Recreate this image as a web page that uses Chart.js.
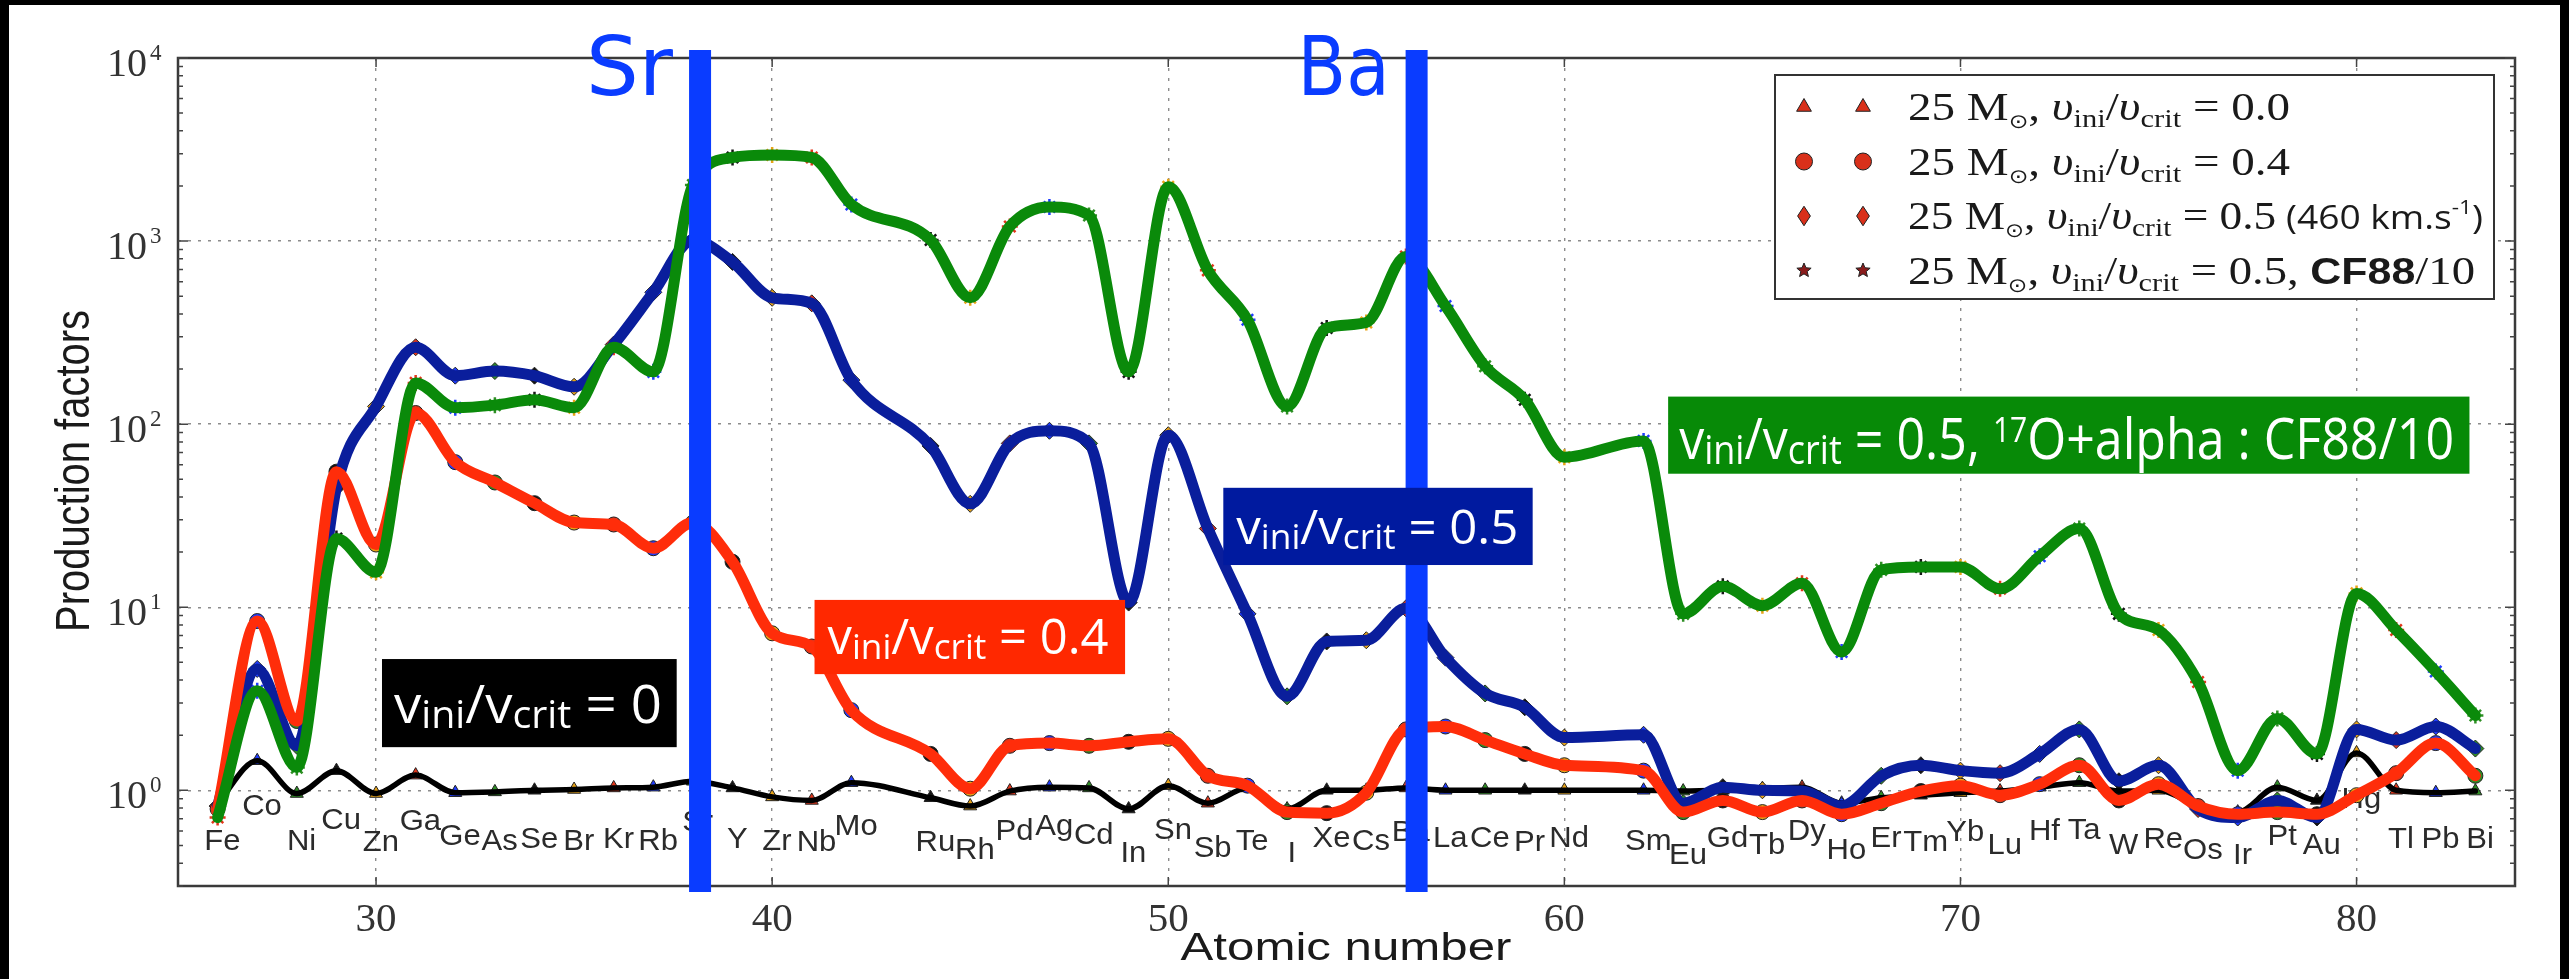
<!DOCTYPE html>
<html>
<head>
<meta charset="utf-8">
<title>Production factors</title>
<script src="https://cdn.jsdelivr.net/npm/chart.js@4.4.1/dist/chart.umd.min.js"></script>
<style>
  html, body { margin: 0; padding: 0; background: #000; }
  canvas { display: block; }
</style>
</head>
<body>
<canvas id="pfChart" width="2569" height="979"></canvas>
<script>
// ---- data ----
const atomicNumbers = [26,27,28,29,30,31,32,33,34,35,36,37,38,39,40,41,42,
  44,45,46,47,48,49,50,51,52,53,54,55,56,57,58,59,60,
  62,63,64,65,66,67,68,69,70,71,72,73,74,75,76,77,78,79,80,81,82,83];
const elements = ['Fe','Co','Ni','Cu','Zn','Ga','Ge','As','Se','Br','Kr','Rb','Sr','Y','Zr','Nb','Mo',
  'Ru','Rh','Pd','Ag','Cd','In','Sn','Sb','Te','I','Xe','Cs','Ba','La','Ce','Pr','Nd',
  'Sm','Eu','Gd','Tb','Dy','Ho','Er','Tm','Yb','Lu','Hf','Ta','W','Re','Os','Ir','Pt','Au','Hg','Tl','Pb','Bi'];

// v_ini/v_crit = 0.0 (black)
const pf_v00 = [0.85,1.45,0.96,1.28,0.96,1.21,0.97,0.98,1.0,1.01,1.03,1.04,1.12,1.03,0.92,0.88,1.1,
  0.91,0.82,0.99,1.04,1.03,0.79,1.06,0.85,1.03,0.79,1.0,1.0,1.03,1.0,1.0,1.0,1.0,
  1.0,0.99,1.0,1.02,1.04,0.85,0.91,0.94,0.97,0.99,1.04,1.1,0.99,1.0,0.82,0.76,1.04,0.88,1.6,1.0,0.97,0.99];
// v_ini/v_crit = 0.4 (red)
const pf_v04 = [0.79,8.4,2.39,55,22,115,62,48,37,29,28.3,21,29,17.7,7.2,6.1,2.74,
  1.58,1.02,1.75,1.81,1.75,1.84,1.91,1.2,1.06,0.76,0.75,0.97,2.15,2.23,1.88,1.58,1.37,
  1.28,0.76,0.88,0.76,0.88,0.74,0.85,0.99,1.06,0.94,1.08,1.37,0.88,1.08,0.82,0.74,0.76,0.74,0.94,1.24,1.81,1.2];
// v_ini/v_crit = 0.5 (blue)
const pf_v05 = [0.82,4.6,1.75,45,125,263,184,195,184,160,272,525,1014,769,490,457,174,
  76,36.7,78.5,92,78.5,10.6,87,26.9,9.2,3.26,6.5,6.6,9.86,5.3,3.38,2.84,1.94,
  2.01,0.85,1.04,1.0,0.99,0.82,1.2,1.37,1.28,1.24,1.58,2.15,1.12,1.37,0.79,0.71,0.88,0.71,2.15,1.88,2.23,1.69];
// v_ini/v_crit = 0.5, CF88/10 (green)
const pf_cf88 = [0.71,3.5,1.33,23.7,15.5,168,123,127,136,123,263,193,2025,2860,2950,2860,1585,
  1014,490,1202,1535,1380,193,1982,692,372,125,335,359,824,442,207,136,66,
  81,9.2,13,10.2,13.5,5.7,16,16.6,16.6,12.6,19,26.9,9.2,7.5,3.9,1.28,2.47,1.58,11.9,7.5,4.45,2.56];

const xTicks = [30,40,50,60,70,80];
const yTicks = [1,10,100,1000,10000];
const legendValues = ['0.0','0.4','0.5','0.5'];

// placement of the element symbols along the bottom (in production-factor units)
const symbolY = [0.54,0.84,0.54,0.70,0.53,0.69,0.57,0.54,0.55,0.54,0.55,0.54,0.68,0.55,0.54,0.53,0.65,
  0.53,0.48,0.61,0.65,0.58,0.46,0.62,0.49,0.54,0.46,0.56,0.54,0.60,0.56,0.56,0.53,0.56,
  0.54,0.45,0.56,0.51,0.61,0.48,0.56,0.53,0.60,0.51,0.61,0.62,0.51,0.55,0.48,0.45,0.57,0.51,0.915,0.55,0.55,0.55];

// ---- styles ----
const markerPalette = ['#1f3cff','#2f8f25','#151515','#e8a317','#e2361b'];
const markerColor = z => markerPalette[((z - 27) % 5 + 5) % 5];
const pointColors = atomicNumbers.map(markerColor);

const series = [
  { data: pf_v00,  color: '#000000', width: 5.5, marker: 'triangle', r: 7.5, order: 4 },
  { data: pf_v04,  color: '#ff2d0a', width: 11,  marker: 'circle',   r: 7.5, order: 2 },
  { data: pf_v05,  color: '#0a1e9c', width: 11,  marker: 'rectRot',  r: 8.5, order: 3 },
  { data: pf_cf88, color: '#0a8a0a', width: 11,  marker: 'star',     r: 8,   order: 1 }
];

const highlights = [
  { label: 'Sr', z: 38.18, textW: 87 },
  { label: 'Ba', z: 56.27, textW: 92 }
];
const HL_COLOR = '#0a3cff';

const ratioSegs = [{t:'v'},{t:'ini',k:0.72,dy:0.1},{t:'/'},{t:'v'},{t:'crit',k:0.72,dy:0.1}];
const notes = [
  { tail: [{t:' = 0'}],   bg: '#000000', z: [30.15, 37.59], pf: [5.21, 1.72],  size: 53, pad: 12, textW: 268, base: 24 },
  { tail: [{t:' = 0.4'}], bg: '#ff2800', z: [41.07, 48.91], pf: [10.96, 4.31], size: 49, pad: 13, textW: 281, base: 20 },
  { tail: [{t:' = 0.5'}], bg: '#001a9f', z: [51.39, 59.2],  pf: [44.9, 17.0],  size: 47, pad: 13, textW: 282, base: 21 },
  { tail: [{t:' = 0.5, '},{t:'17',k:0.6,dy:-0.3},{t:'O+alpha : CF88/10'}],
    bg: '#078a07', z: [62.62, 82.85], pf: [141.4, 53.6], size: 57, pad: 11, textW: 775, base: 15 }
];

const SERIF = 'Liberation Serif';
const SANS = 'Liberation Sans';
const NOTE_FONT = 'Open Sans';

function segFont(s, size, family) {
  const k = s.k || 1;
  return (s.style || 'normal') + ' ' + (s.weight || 'normal') + ' ' + (size * k).toFixed(1) + 'px "' + (s.family || family) + '"';
}

function drawRich(ctx, segs, x, y, size, family, targetW, color) {
  let w = 0;
  const widths = segs.map(s => {
    ctx.font = segFont(s, size, family);
    const m = ctx.measureText(s.t).width;
    w += m;
    return m;
  });
  const sx = targetW ? targetW / w : 1;
  ctx.save();
  ctx.translate(x, y);
  ctx.scale(sx, 1);
  ctx.fillStyle = color;
  ctx.textAlign = 'left';
  ctx.textBaseline = 'alphabetic';
  let cx = 0;
  segs.forEach((s, i) => {
    ctx.font = segFont(s, size, family);
    ctx.fillText(s.t, cx, (s.dy || 0) * size);
    cx += widths[i];
  });
  ctx.restore();
}

function drawMarker(ctx, style, x, y, r, fill, stroke) {
  ctx.save();
  ctx.beginPath();
  if (style === 'triangle') {
    ctx.moveTo(x, y - r); ctx.lineTo(x + r * 0.87, y + r * 0.5); ctx.lineTo(x - r * 0.87, y + r * 0.5); ctx.closePath();
  } else if (style === 'circle') {
    ctx.arc(x, y, r, 0, Math.PI * 2);
  } else if (style === 'diamond') {
    ctx.moveTo(x, y - r * 1.15); ctx.lineTo(x + r * 0.75, y); ctx.lineTo(x, y + r * 1.15); ctx.lineTo(x - r * 0.75, y); ctx.closePath();
  } else {
    for (let i = 0; i < 10; i++) {
      const a = -Math.PI / 2 + i * Math.PI / 5;
      const rr = i % 2 ? r * 0.45 : r;
      ctx.lineTo(x + rr * Math.cos(a), y + rr * Math.sin(a));
    }
    ctx.closePath();
  }
  ctx.fillStyle = fill; ctx.fill();
  ctx.lineWidth = 1; ctx.strokeStyle = stroke; ctx.stroke();
  ctx.restore();
}

const decor = {
  id: 'decor',
  beforeDraw(chart) {
    const ctx = chart.ctx;
    ctx.save();
    ctx.fillStyle = '#000';
    ctx.fillRect(0, 0, chart.width, chart.height);
    ctx.fillStyle = '#fff';
    ctx.fillRect(9, 5, chart.width - 18, chart.height - 5);
    ctx.restore();
  },
  beforeDatasetsDraw(chart) {
    // element symbols
    const ctx = chart.ctx, xs = chart.scales.x, ys = chart.scales.y;
    ctx.save();
    ctx.font = '29px "' + SANS + '"';
    ctx.fillStyle = '#2b2b2b';
    ctx.textAlign = 'center';
    ctx.textBaseline = 'alphabetic';
    elements.forEach((el, i) => {
      const px = xs.getPixelForValue(atomicNumbers[i] + 0.12);
      const py = ys.getPixelForValue(symbolY[i]) + 10.4;
      ctx.save();
      ctx.translate(px, py);
      ctx.scale(1.07, 1);
      ctx.fillText(el, 0, 0);
      ctx.restore();
    });
    ctx.restore();
  },
  afterDatasetsDraw(chart) {
    const ctx = chart.ctx, ca = chart.chartArea, xs = chart.scales.x, ys = chart.scales.y;
    ctx.save();

    // frame
    ctx.strokeStyle = '#3a3a3a';
    ctx.lineWidth = 2.5;
    ctx.strokeRect(ca.left, ca.top, ca.right - ca.left, ca.bottom - ca.top);

    // inward ticks
    ctx.lineWidth = 1.5;
    ctx.strokeStyle = '#444';
    ctx.beginPath();
    xTicks.forEach(v => {
      const px = xs.getPixelForValue(v);
      ctx.moveTo(px, ca.bottom); ctx.lineTo(px, ca.bottom - 9);
      ctx.moveTo(px, ca.top); ctx.lineTo(px, ca.top + 9);
    });
    for (let d = -1; d <= 4; d++) {
      for (let m = 1; m <= 9; m++) {
        const v = m * Math.pow(10, d);
        if (v < ys.min || v > ys.max) continue;
        const py = ys.getPixelForValue(v);
        const len = m === 1 ? 10 : 5;
        ctx.moveTo(ca.left, py); ctx.lineTo(ca.left + len, py);
        ctx.moveTo(ca.right, py); ctx.lineTo(ca.right - len, py);
      }
    }
    ctx.stroke();

    // y tick labels 10^n
    ctx.fillStyle = '#333';
    yTicks.forEach(v => {
      const py = ys.getPixelForValue(v);
      ctx.font = '40px "' + SERIF + '"';
      ctx.textAlign = 'right';
      ctx.fillText('10', 147, py + 18);
      ctx.font = '23px "' + SERIF + '"';
      ctx.textAlign = 'left';
      ctx.fillText(String(Math.round(Math.log10(v))), 150, py + 2);
    });

    // axis titles
    ctx.font = '38px "' + SANS + '"';
    ctx.textAlign = 'left';
    ctx.fillStyle = '#1a1a1a';
    let w = ctx.measureText('Atomic number').width;
    ctx.save();
    ctx.translate(1346 - 331 / 2, 960);
    ctx.scale(331 / w, 1);
    ctx.fillText('Atomic number', 0, 0);
    ctx.restore();
    ctx.font = '40px "' + SANS + '"';
    w = ctx.measureText('Production factors').width;
    ctx.save();
    ctx.translate(89, (ca.top + ca.bottom) / 2 - 1);
    ctx.rotate(-Math.PI / 2);
    ctx.scale(322 / w, 1.22);
    ctx.fillText('Production factors', -w / 2, 0);
    ctx.restore();

    // Sr / Ba highlight lines
    highlights.forEach(h => {
      const px = xs.getPixelForValue(h.z);
      ctx.fillStyle = HL_COLOR;
      ctx.fillRect(px - 11, ca.top - 8, 22, ca.bottom - ca.top + 14);
      drawRich(ctx, [{t: h.label}], px - 27 - h.textW, ca.top + 37, 82, 'DejaVu Sans', h.textW, HL_COLOR);
    });

    // coloured annotation boxes
    notes.forEach(n => {
      const x0 = xs.getPixelForValue(n.z[0]), x1 = xs.getPixelForValue(n.z[1]);
      const y0 = ys.getPixelForValue(n.pf[0]), y1 = ys.getPixelForValue(n.pf[1]);
      ctx.fillStyle = n.bg;
      ctx.fillRect(x0, y0, x1 - x0, y1 - y0);
      drawRich(ctx, ratioSegs.concat(n.tail), x0 + n.pad, y1 - n.base, n.size, NOTE_FONT, n.textW, '#ffffff');
    });

    // legend
    const lw = 719, lh = 224;
    const lx = ca.right - 21 - lw, ly = ca.top + 17;
    ctx.fillStyle = '#fff';
    ctx.fillRect(lx, ly, lw, lh);
    ctx.strokeStyle = '#333';
    ctx.lineWidth = 2;
    ctx.strokeRect(lx, ly, lw, lh);
    const legendMarkers = ['triangle','circle','diamond','star'];
    const legendWidths = [382, 382, 575, 567];
    legendValues.forEach((val, i) => {
      const cy = ly + 32 + i * 54.5;
      const fill = i === 3 ? '#8a1c1c' : '#d9301a';
      const mr = i === 3 ? 7.5 : 8.5;
      drawMarker(ctx, legendMarkers[i], lx + 29, cy, mr, fill, '#222');
      drawMarker(ctx, legendMarkers[i], lx + 88, cy, mr, fill, '#222');
      let segs = [
        {t:'25 M'}, {t:'\u2299', k:0.5, dy:0.2, family:'DejaVu Sans'}, {t:', '},
        {t:'\u03c5', style:'italic'}, {t:'ini', k:0.65, dy:0.18}, {t:'/'},
        {t:'\u03c5', style:'italic'}, {t:'crit', k:0.65, dy:0.18}, {t:' = ' + val}
      ];
      if (i === 2) {
        segs = segs.concat([{t:' (460 km.s', family:'Open Sans', k:0.82}, {t:'-1', family:'Open Sans', k:0.5, dy:-0.38}, {t:')', family:'Open Sans', k:0.82}]);
      }
      if (i === 3) {
        segs = segs.concat([{t:', '}, {t:'CF88', family: SANS, weight:'bold', k:0.92}, {t:'/10'}]);
      }
      drawRich(ctx, segs, lx + 133, cy + 13, 40, SERIF, legendWidths[i], '#1a1a1a');
    });

    ctx.restore();
  }
};

function buildChart() {
  const datasets = [];
  series.forEach(s => {
    const pts = atomicNumbers.map((z, i) => ({ x: z, y: s.data[i] }));
    datasets.push({
      data: pts,
      borderColor: s.color,
      borderWidth: s.width,
      pointRadius: 0,
      fill: false,
      cubicInterpolationMode: 'monotone',
      borderCapStyle: 'round',
      borderJoinStyle: 'round',
      order: s.order
    });
    const star = s.marker === 'star';
    datasets.push({
      data: pts,
      showLine: false,
      pointStyle: s.marker,
      pointRadius: s.r,
      pointBackgroundColor: pointColors,
      pointBorderColor: star ? pointColors : '#222',
      pointBorderWidth: star ? 2.5 : 1,
      order: 10 + s.order
    });
  });

  new Chart(document.getElementById('pfChart'), {
    type: 'line',
    data: { datasets },
    plugins: [decor],
    options: {
      responsive: false,
      animation: false,
      events: [],
      devicePixelRatio: 1,
      layout: { padding: { top: 58, right: 54, left: 0, bottom: 0 } },
      plugins: { legend: { display: false }, tooltip: { enabled: false } },
      scales: {
        x: {
          type: 'linear',
          min: 25,
          max: 84,
          afterBuildTicks: sc => { sc.ticks = xTicks.map(v => ({ value: v })); },
          afterFit: sc => { sc.height = 93; },
          grid: { color: '#8c8c8c', lineWidth: 1.4, drawTicks: false },
          border: { display: false, dash: [3, 7] },
          ticks: {
            font: { family: SERIF, size: 41, lineHeight: 1.05 },
            color: '#333',
            padding: 13,
            maxRotation: 0
          }
        },
        y: {
          type: 'logarithmic',
          min: 0.3,
          max: 10000,
          afterBuildTicks: sc => { sc.ticks = yTicks.map(v => ({ value: v })); },
          afterFit: sc => { sc.width = 178; },
          grid: { color: '#8c8c8c', lineWidth: 1.4, drawTicks: false },
          border: { display: false, dash: [3, 7] },
          ticks: { display: false }
        }
      }
    }
  });
}

const fontsWanted = ['40px "Liberation Serif"', '27px "Liberation Sans"', '50px "Open Sans"', '80px "DejaVu Sans"', 'italic 34px "Liberation Serif"', 'bold 30px "Liberation Sans"'];
if (document.fonts && document.fonts.load) {
  Promise.all(fontsWanted.map(f => document.fonts.load(f))).then(buildChart, buildChart);
} else {
  buildChart();
}
</script>
</body>
</html>
